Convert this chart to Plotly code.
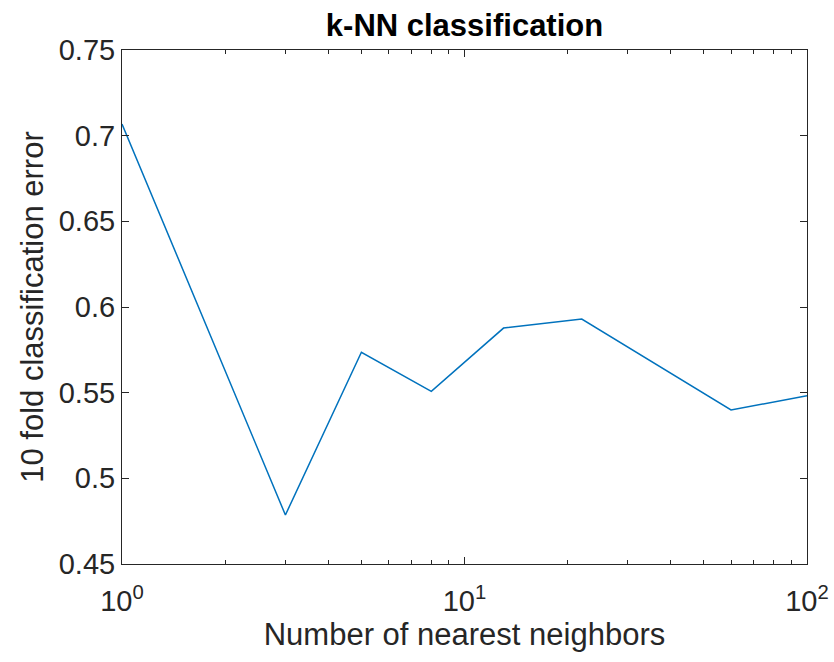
import plotly.graph_objects as go

# number of neighbours k and the 10-fold cross-validated error for each
k_values = [1, 3, 5, 8, 13, 22, 60, 100]
cv_error = [0.7068, 0.4786, 0.5736, 0.5508, 0.5877, 0.5930, 0.5399, 0.5482]

x_tick_vals = [1, 10, 100]
x_tick_text = ["10<sup>0</sup>", "10<sup>1</sup>", "10<sup>2</sup>"]
x_minor_vals = [2, 3, 4, 5, 6, 7, 8, 9, 20, 30, 40, 50, 60, 70, 80, 90]
y_tick_vals = [0.45, 0.5, 0.55, 0.6, 0.65, 0.7, 0.75]
y_tick_text = ["0.45", "0.5", "0.55", "0.6", "0.65", "0.7", "0.75"]

axis_col = "#262626"
font_family = "Liberation Sans, Arial, sans-serif"

fig = go.Figure(
    go.Scatter(
        x=k_values,
        y=cv_error,
        mode="lines",
        line=dict(color="#0072BD", width=1.5),
    )
)

common_axis = dict(
    automargin=False,
    showline=True,
    linecolor=axis_col,
    linewidth=1,
    mirror="ticks",
    ticks="inside",
    ticklen=7,
    tickcolor=axis_col,
    tickwidth=1,
    showgrid=False,
    zeroline=False,
    tickfont=dict(family=font_family, size=29, color=axis_col),
)

fig.update_layout(
    width=834,
    height=662,
    margin=dict(l=122, r=27, t=50, b=98),
    paper_bgcolor="white",
    plot_bgcolor="white",
    showlegend=False,
    title=dict(
        text="<b>k-NN classification</b>",
        x=0.5,
        xref="paper",
        xanchor="center",
        y=1 - 25 / 662,
        yanchor="middle",
        font=dict(family=font_family, size=31, color="black"),
    ),
    xaxis=dict(
        type="log",
        range=[0, 2],
        tickvals=x_tick_vals,
        ticktext=x_tick_text,
        ticklabelstandoff=11,
        title=dict(
            text="Number of nearest neighbors",
            font=dict(family=font_family, size=31, color=axis_col),
            standoff=0,
        ),
        minor=dict(
            tickmode="array",
            tickvals=x_minor_vals,
            ticks="inside",
            ticklen=4,
            tickcolor=axis_col,
            showgrid=False,
        ),
        **common_axis,
    ),
    yaxis=dict(
        range=[0.45, 0.75],
        tickvals=y_tick_vals,
        ticktext=y_tick_text,
        title=dict(
            text="10 fold classification error",
            font=dict(family=font_family, size=31, color=axis_col),
            standoff=5,
        ),
        **common_axis,
    ),
)

fig.write_html("out.html")
